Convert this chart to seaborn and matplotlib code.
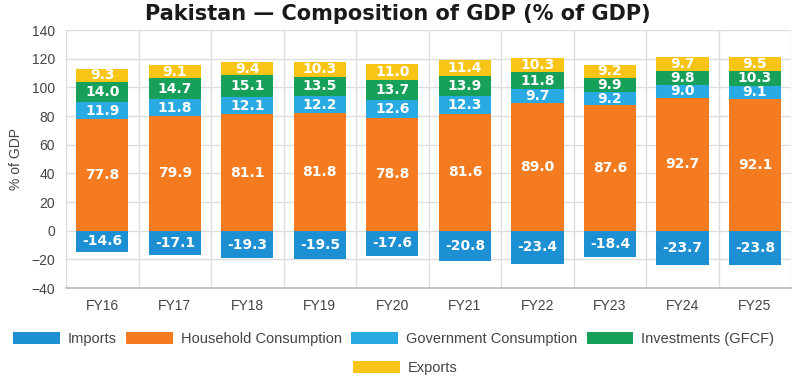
import numpy as np
import pandas as pd
import matplotlib
matplotlib.use("Agg")
import matplotlib.pyplot as plt
from matplotlib.patches import Patch
import seaborn as sns

years = ["FY16", "FY17", "FY18", "FY19", "FY20", "FY21", "FY22", "FY23", "FY24", "FY25"]
imports = [-14.6, -17.1, -19.3, -19.5, -17.6, -20.8, -23.4, -18.4, -23.7, -23.8]
household = [77.8, 79.9, 81.1, 81.8, 78.8, 81.6, 89.0, 87.6, 92.7, 92.1]
government = [11.9, 11.8, 12.1, 12.2, 12.6, 12.3, 9.7, 9.2, 9.0, 9.1]
investments = [14.0, 14.7, 15.1, 13.5, 13.7, 13.9, 11.8, 9.9, 9.8, 10.3]
exports = [9.3, 9.1, 9.4, 10.3, 11.0, 11.4, 10.3, 9.2, 9.7, 9.5]

series_names = ["Imports", "Household Consumption", "Government Consumption",
                "Investments (GFCF)", "Exports"]
colors = ["#1d8fd3", "#f47b20", "#2aaae3", "#17a05a", "#f8c516"]

sns.set_theme(style="white")
plt.rcParams["font.family"] = ["Liberation Sans", "DejaVu Sans"]

fig = plt.figure(figsize=(7.96, 3.8), dpi=100)
ax = fig.add_axes([0.083, 0.242, 0.911, 0.679])

df = pd.DataFrame({"year": years, "imports": imports, "household": household,
                   "government": government, "investments": investments,
                   "exports": exports})

hh = np.array(household)
gov = np.array(government)
inv = np.array(investments)

# stacking: imports go below zero, the rest pile up from zero
stack = [
    ("imports", np.zeros(len(years))),
    ("household", np.zeros(len(years))),
    ("government", hh),
    ("investments", hh + gov),
    ("exports", hh + gov + inv),
]

for (col, bottom), c in zip(stack, colors):
    sns.barplot(data=df, x="year", y=col, bottom=bottom, color=c, width=0.72,
                errorbar=None, ax=ax, saturation=1, linewidth=0, zorder=3)
    vals = df[col].values
    for i, (v, b) in enumerate(zip(vals, bottom)):
        ax.text(i, b + v / 2, f"{v:.1f}", ha="center", va="center",
                color="white", fontsize=10, fontweight="bold", zorder=4,
                family=["DejaVu Sans"])

ax.set_ylim(-40, 140)
ax.set_xlim(-0.5, len(years) - 0.5)
ax.set_yticks(range(-40, 141, 20))
ax.tick_params(axis="y", labelsize=10, colors="#444444", length=0, pad=8)
ax.tick_params(axis="x", labelsize=10, colors="#444444", length=0, pad=8)
ax.set_xticks(np.arange(-0.5, len(years), 1), minor=True)
ax.tick_params(axis="x", which="minor", length=7, color="#cccccc", width=1)
ax.grid(axis="y", color="#dddddd", linewidth=1, zorder=0)
ax.grid(axis="x", which="minor", color="#dddddd", linewidth=1, zorder=0)
ax.set_xlabel("")
ax.set_ylabel("% of GDP", fontsize=10, color="#444444", labelpad=6)
for s in ["top", "right", "left"]:
    ax.spines[s].set_visible(False)
ax.spines["bottom"].set_color("#bbbbbb")

fig.suptitle("Pakistan — Composition of GDP (% of GDP)", x=0.5, y=0.99,
             fontsize=15, fontweight="bold", color="#1a1a1a",
             family=["DejaVu Sans"])

handles = [Patch(facecolor=c, edgecolor="none") for c in colors]
leg_kw = dict(frameon=False, fontsize=10.5, handlelength=3.2, handleheight=0.9,
              handletextpad=0.55, columnspacing=0.65, borderpad=0,
              borderaxespad=0, labelcolor="#444444")
fig.legend(handles[:4], series_names[:4], loc="center left",
           bbox_to_anchor=(13 / 796, 1 - 339 / 380), ncol=4, **leg_kw)
fig.legend(handles[4:], series_names[4:], loc="center left",
           bbox_to_anchor=(353 / 796, 1 - 368 / 380), ncol=1, **leg_kw)

fig.savefig("out.png", dpi=100)
